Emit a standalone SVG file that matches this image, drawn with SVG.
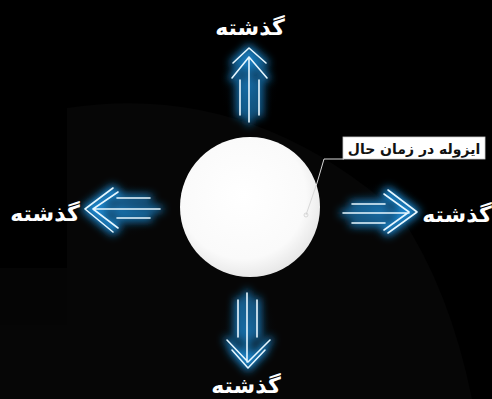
<svg xmlns="http://www.w3.org/2000/svg" width="492" height="399" viewBox="0 0 492 399">
<style>
.lbl{font-family:"DejaVu Sans",sans-serif;font-weight:bold;font-size:22px;fill:#ffffff;text-anchor:middle}
.neon{fill:none;stroke:#e6f7ff;stroke-width:1.6;stroke-linecap:round;stroke-linejoin:round}
.glow{fill:none;stroke:#22a8ff;stroke-width:6;stroke-linecap:round;stroke-linejoin:round;opacity:0.8}
.callt{font-family:"DejaVu Sans",sans-serif;font-weight:bold;font-size:14px;fill:#111111;text-anchor:middle}
</style>
<defs>
<filter id="blur" x="-50%" y="-50%" width="200%" height="200%"><feGaussianBlur stdDeviation="4"/></filter>
<radialGradient id="sph" cx="45%" cy="42%" r="60%">
<stop offset="0" stop-color="#ffffff"/>
<stop offset="0.75" stop-color="#fafafa"/>
<stop offset="1" stop-color="#e6e6e6"/>
</radialGradient>
<radialGradient id="halo" cx="50%" cy="50%" r="50%">
<stop offset="0" stop-color="#1a78c0" stop-opacity="0.35"/>
<stop offset="1" stop-color="#000000" stop-opacity="0"/>
</radialGradient>
</defs>
<rect width="492" height="399" fill="#000000"/>
<path d="M67,108 Q250,80 400,215 Q450,290 472,399 L0,399 L0,325 L67,325 Z" fill="#060606"/>
<path d="M0,268 L67,268 L67,325 L0,325 Z" fill="#050505"/>
<g id="arrow-up">
<ellipse cx="249" cy="85" rx="30" ry="45" fill="url(#halo)"/>
<g filter="url(#blur)">
<path class="glow" d="M233,63 L249,48 L266,63 M232,78 L249,57 L267,78 M240,80 L240,115 M249,57 L249,122 M259,80 L259,115"/>
</g>
<path class="neon" d="M233,63 L249,48 L266,63 M232,78 L249,57 L267,78 M240,80 L240,115 M249,57 L249,122 M259,80 L259,115"/>
</g>
<g id="arrow-left">
<ellipse cx="120" cy="209" rx="45" ry="30" fill="url(#halo)"/>
<g filter="url(#blur)">
<path class="glow" d="M113,188 L85,209 L113,232 M118,192 L93,209 L118,228 M117,198 L150,198 M93,209 L160,209 M117,218 L150,218"/>
</g>
<path class="neon" d="M113,188 L85,209 L113,232 M118,192 L93,209 L118,228 M117,198 L150,198 M93,209 L160,209 M117,218 L150,218"/>
</g>
<g id="arrow-right">
<ellipse cx="380" cy="212" rx="45" ry="30" fill="url(#halo)"/>
<g filter="url(#blur)">
<path class="glow" d="M388,190 L417,212 L388,233 M384,194 L409,212 L384,230 M352,204 L385,204 M343,213 L409,213 M352,223 L385,223"/>
</g>
<path class="neon" d="M388,190 L417,212 L388,233 M384,194 L409,212 L384,230 M352,204 L385,204 M343,213 L409,213 M352,223 L385,223"/>
</g>
<g id="arrow-down">
<ellipse cx="248" cy="330" rx="30" ry="45" fill="url(#halo)"/>
<g filter="url(#blur)">
<path class="glow" d="M227,340 L248,362 L270,340 M232,350 L248,368 L265,350 M238,300 L238,337 M247,293 L247,362 M257,300 L257,337"/>
</g>
<path class="neon" d="M227,340 L248,362 L270,340 M232,350 L248,368 L265,350 M238,300 L238,337 M247,293 L247,362 M257,300 L257,337"/>
</g>
<g id="sphere">
<circle cx="250" cy="207" r="70" fill="url(#sph)"/>
</g>
<g id="connectors">
<polyline points="344,159 324,159 317,183 306,215" fill="none" stroke="#d8d8d8" stroke-width="1"/>
<circle cx="306" cy="215" r="2" fill="none" stroke="#cfcfcf" stroke-width="0.8"/>
</g>
<g id="callout">
<rect x="343" y="137" width="142" height="22" fill="#ffffff" stroke="#cccccc" stroke-width="0.8"/>
<text class="callt" x="414" y="154" direction="rtl">ایزوله در زمان حال</text>
</g>
<g id="label-top"><text class="lbl" x="250" y="35" direction="rtl">گذشته</text></g>
<g id="label-left"><text class="lbl" x="45" y="221" direction="rtl">گذشته</text></g>
<g id="label-right"><text class="lbl" x="457" y="222" direction="rtl">گذشته</text></g>
<g id="label-bottom"><text class="lbl" x="246" y="393" direction="rtl">گذشته</text></g>
</svg>
